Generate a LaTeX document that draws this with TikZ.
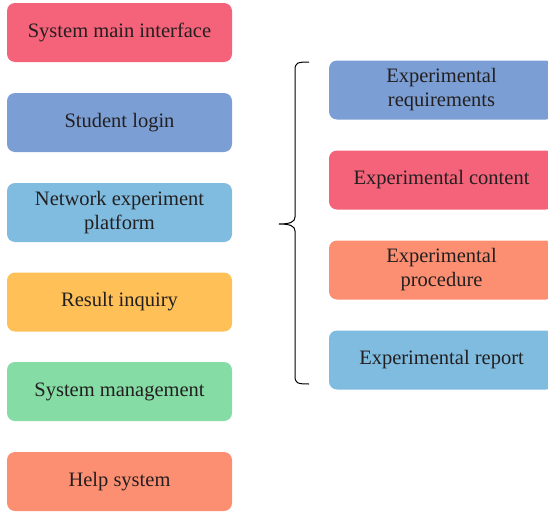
\documentclass[tikz,border=0pt]{standalone}
\usepackage{fontspec}
\setmainfont{Liberation Serif}
\definecolor{cred}{HTML}{F4637A}
\definecolor{cblue}{HTML}{7B9FD4}
\definecolor{clight}{HTML}{7FBCE0}
\definecolor{cyellow}{HTML}{FFC057}
\definecolor{cgreen}{HTML}{85DCA5}
\definecolor{csalmon}{HTML}{FC8F72}
\definecolor{ctext}{HTML}{231F20}
\begin{document}
\begin{tikzpicture}[x=1pt,y=-1pt,
  item/.style={rectangle, rounded corners=8pt, minimum width=225pt, minimum height=59pt,
    inner sep=2pt, align=center, text=ctext, font=\fontsize{20.5}{24}\selectfont},
  brace/.style={line width=1pt, black}]
\useasboundingbox (0,0) rectangle (548,514);
\clip (0,0) rectangle (548,514);
% left column
\node[item, fill=cred]    (main)   at (119.5,32.5)  {System main interface};
\node[item, fill=cblue]   (login)  at (119.5,122.5) {Student login};
\node[item, fill=clight]  (net)    at (119.5,212.5) {Network experiment\\platform};
\node[item, fill=cyellow] (result) at (119.5,302)   {Result inquiry};
\node[item, fill=cgreen]  (mgmt)   at (119.5,391.5) {System management};
\node[item, fill=csalmon] (help)   at (119.5,481.5) {Help system};
% right column
\node[item, fill=cblue]   (req)    at (441.5,90)  {Experimental\\requirements};
\node[item, fill=cred]    (cont)   at (441.5,180) {Experimental content};
\node[item, fill=csalmon] (proc)   at (441.5,270) {Experimental\\procedure};
\node[item, fill=clight]  (rep)    at (441.5,360) {Experimental report};
% grouping brace
\coordinate (btop) at (309,62);
\coordinate (bmid) at (279,224);
\coordinate (bbot) at (309,384);
\draw[brace] (btop) .. controls (297,62) and (295,63) .. (295,70)
  -- (295,217) .. controls (295,222) and (290,224) .. (bmid)
  .. controls (290,224) and (295,226) .. (295,231)
  -- (295,376) .. controls (295,383) and (297,384) .. (bbot);
\end{tikzpicture}
\end{document}
